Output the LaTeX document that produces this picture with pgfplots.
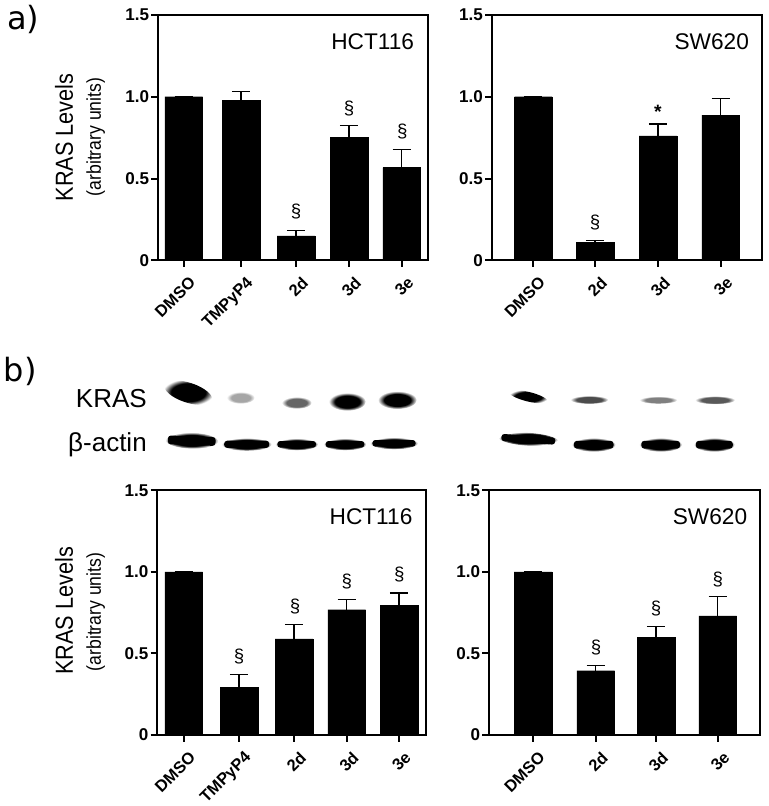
\documentclass[border=0pt]{standalone}
\usepackage{fontspec}
\setmainfont{Liberation Sans}
\newfontfamily\dejavu{DejaVu Sans}
\usepackage{pgfplots}
\pgfplotsset{compat=1.18}
\pgfdeclareradialshading[blotcol]{blot}{\pgfpointorigin}{color(0bp)=(blotcol);color(17bp)=(blotcol);color(25bp)=(white);color(50bp)=(white)}
\newcommand{\blot}[6]{%
  \colorlet{blotcol}{black!#6!white}%
  \path[shading=blot,rotate around={#5:(#1,-#2)}] (#1,-#2) ellipse [x radius=#3,y radius=#4];}
\newcommand{\band}[5]{%
  \blot{#1}{#2}{#3}{#4}{#5}{100}%
  \fill[black,rotate around={#5:(#1,-#2)},rounded corners=2.2pt] (#1-#3*0.9,-#2-#4*0.55) rectangle (#1+#3*0.9,-#2+#4*0.55);}
\pgfplotsset{
  panel/.style={
    scale only axis, anchor=south west,
    ymin=0, ymax=1.5, ytick={0,0.5,1,1.5}, yticklabels={0,0.5,1.0,1.5},
    tick pos=left, tick align=outside, clip=false,
    axis line style={line width=1.5pt}, tick style={line width=1.5pt,black},
    major tick length=5pt,
    y tick label style={font=\bfseries\fontsize{12.8}{12.8}\selectfont,inner sep=1.5pt},
    x tick label style={font=\bfseries\fontsize{12.3}{12.3}\selectfont,rotate=45,anchor=north east,inner sep=1pt,xshift=-1pt,yshift=-6pt},
  },
  bars/.style={
    mark=none, ybar, bar width=28.2pt, bar shift=0pt, fill=black, draw=black, line width=0.3pt,
    error bars/.cd, y dir=plus, y explicit,
    error bar style={line width=0.9pt,black},
    error mark options={rotate=90,mark size=6.8pt,line width=0.9pt,black},
  },
}
\newcommand{\sect}[2]{\node[font=\fontsize{14}{14}\selectfont] at (axis cs:#1,#2) {\S};}
\begin{document}
\begin{tikzpicture}[x=0.75pt,y=0.75pt]
\useasboundingbox (0,0) rectangle (768,-806);
% panel letters
\node[font=\dejavu\fontsize{24}{24}\selectfont,anchor=base west,inner sep=0] at (7,-29.3) {a)};
\node[font=\dejavu\fontsize{24}{24}\selectfont,anchor=base west,inner sep=0] at (3.5,-381.7) {b)};
% y titles
\node[rotate=90,font=\fontsize{18.5}{18.5}\selectfont] at (64,-137.5) {\scalebox{0.88}[1]{KRAS Levels}};
\node[rotate=90,font=\fontsize{15}{15}\selectfont] at (95.7,-137) {\scalebox{0.88}[1]{(arbitrary units)}};
\node[rotate=90,font=\fontsize{18.5}{18.5}\selectfont] at (64,-611) {\scalebox{0.88}[1]{KRAS Levels}};
\node[rotate=90,font=\fontsize{15}{15}\selectfont] at (95.7,-612) {\scalebox{0.88}[1]{(arbitrary units)}};
% blot labels
\node[font=\fontsize{19.5}{19.5}\selectfont,anchor=base east,inner sep=0] at (147,-407.7) {KRAS};
\node[font=\fontsize{19.5}{19.5}\selectfont,anchor=base east,inner sep=0] at (147,-451.7) {β-actin};
% blots left
\blot{188.3}{392.7}{25}{10}{-18}{100}
\blot{240.7}{397.7}{14}{6}{0}{35}
\blot{296.7}{402.7}{15}{6}{0}{60}
\blot{347.3}{401.7}{18.5}{9}{0}{100}
\blot{397.3}{400}{19.5}{9}{0}{100}
\band{191.7}{440.7}{26.5}{8}{-2}
\band{246.7}{444.3}{25}{6.5}{0}
\band{296.7}{444.3}{21.5}{6}{0}
\band{345}{444.3}{21.5}{6}{0}
\band{394}{443.3}{24}{6}{0}
% blots right
\blot{528.3}{396.7}{20}{4.8}{-14}{100}
\blot{589.3}{399.7}{19}{4.2}{0}{70}
\blot{658.3}{400}{19}{3.8}{0}{50}
\blot{715}{400}{20}{4.2}{0}{65}
\band{528.3}{439.3}{30}{6.5}{-4}
\band{593.7}{444.7}{22}{7}{0}
\band{660.7}{444.7}{21.5}{7}{0}
\band{714.3}{444.7}{20.5}{7}{0}
% A1
\begin{axis}[panel, at={(118.5pt,-195.225pt)}, width=202.7pt, height=184pt, xmin=158, xmax=428.3,
  xtick={183.7,241,296,349,401.7}, xticklabels={DMSO,TMPyP4,2d,3d,3e}]
\addplot[bars] coordinates {(183.7,1.0)+-(0,0) (241,0.976)+-(0,0.055) (296,0.149)+-(0,0.034) (349,0.75)+-(0,0.073) (401.7,0.567)+-(0,0.11)};
\sect{296}{0.298}\sect{349}{0.929}\sect{402.3}{0.79}
\node[font=\fontsize{17}{17}\selectfont] at (axis cs:372.7,1.337) {HCT116};
\end{axis}
% A2
\begin{axis}[panel, at={(368.775pt,-195.225pt)}, width=202.5pt, height=184pt, xmin=491.7, xmax=761.7,
  xtick={533.3,595,658,720.7}, xticklabels={DMSO,2d,3d,3e}]
\addplot[bars] coordinates {(533.3,1.0)+-(0,0) (595,0.11)+-(0,0.012) (658,0.76)+-(0,0.073) (720.7,0.888)+-(0,0.102)};
\sect{595}{0.23}
\node[font=\bfseries\fontsize{14.5}{14.5}\selectfont] at (axis cs:658,0.905) {*};
\node[font=\fontsize{17}{17}\selectfont] at (axis cs:711.7,1.337) {SW620};
\end{axis}
% B1
\begin{axis}[panel, at={(117.975pt,-551.25pt)}, width=201.75pt, height=183.5pt, xmin=157.3, xmax=426.3,
  xtick={183.7,239,294,346.7,399}, xticklabels={DMSO,TMPyP4,2d,3d,3e}]
\addplot[bars] coordinates {(183.7,1.0)+-(0,0) (239,0.292)+-(0,0.078) (294,0.59)+-(0,0.088) (346.7,0.768)+-(0,0.064) (399,0.797)+-(0,0.074)};
\sect{239}{0.482}\sect{295}{0.79}\sect{346.7}{0.942}\sect{399.3}{0.985}
\node[font=\fontsize{17}{17}\selectfont] at (axis cs:371,1.337) {HCT116};
\end{axis}
% B2
\begin{axis}[panel, at={(366.75pt,-551.25pt)}, width=203.5pt, height=183.5pt, xmin=489, xmax=760.3,
  xtick={533,595.7,656,717.7}, xticklabels={DMSO,2d,3d,3e}]
\addplot[bars] coordinates {(533,1.0)+-(0,0) (595.7,0.394)+-(0,0.033) (656,0.599)+-(0,0.065) (717.7,0.73)+-(0,0.118)};
\sect{596}{0.535}\sect{656}{0.774}\sect{717.7}{0.954}
\node[font=\fontsize{17}{17}\selectfont] at (axis cs:710,1.337) {SW620};
\end{axis}
\end{tikzpicture}
\end{document}
